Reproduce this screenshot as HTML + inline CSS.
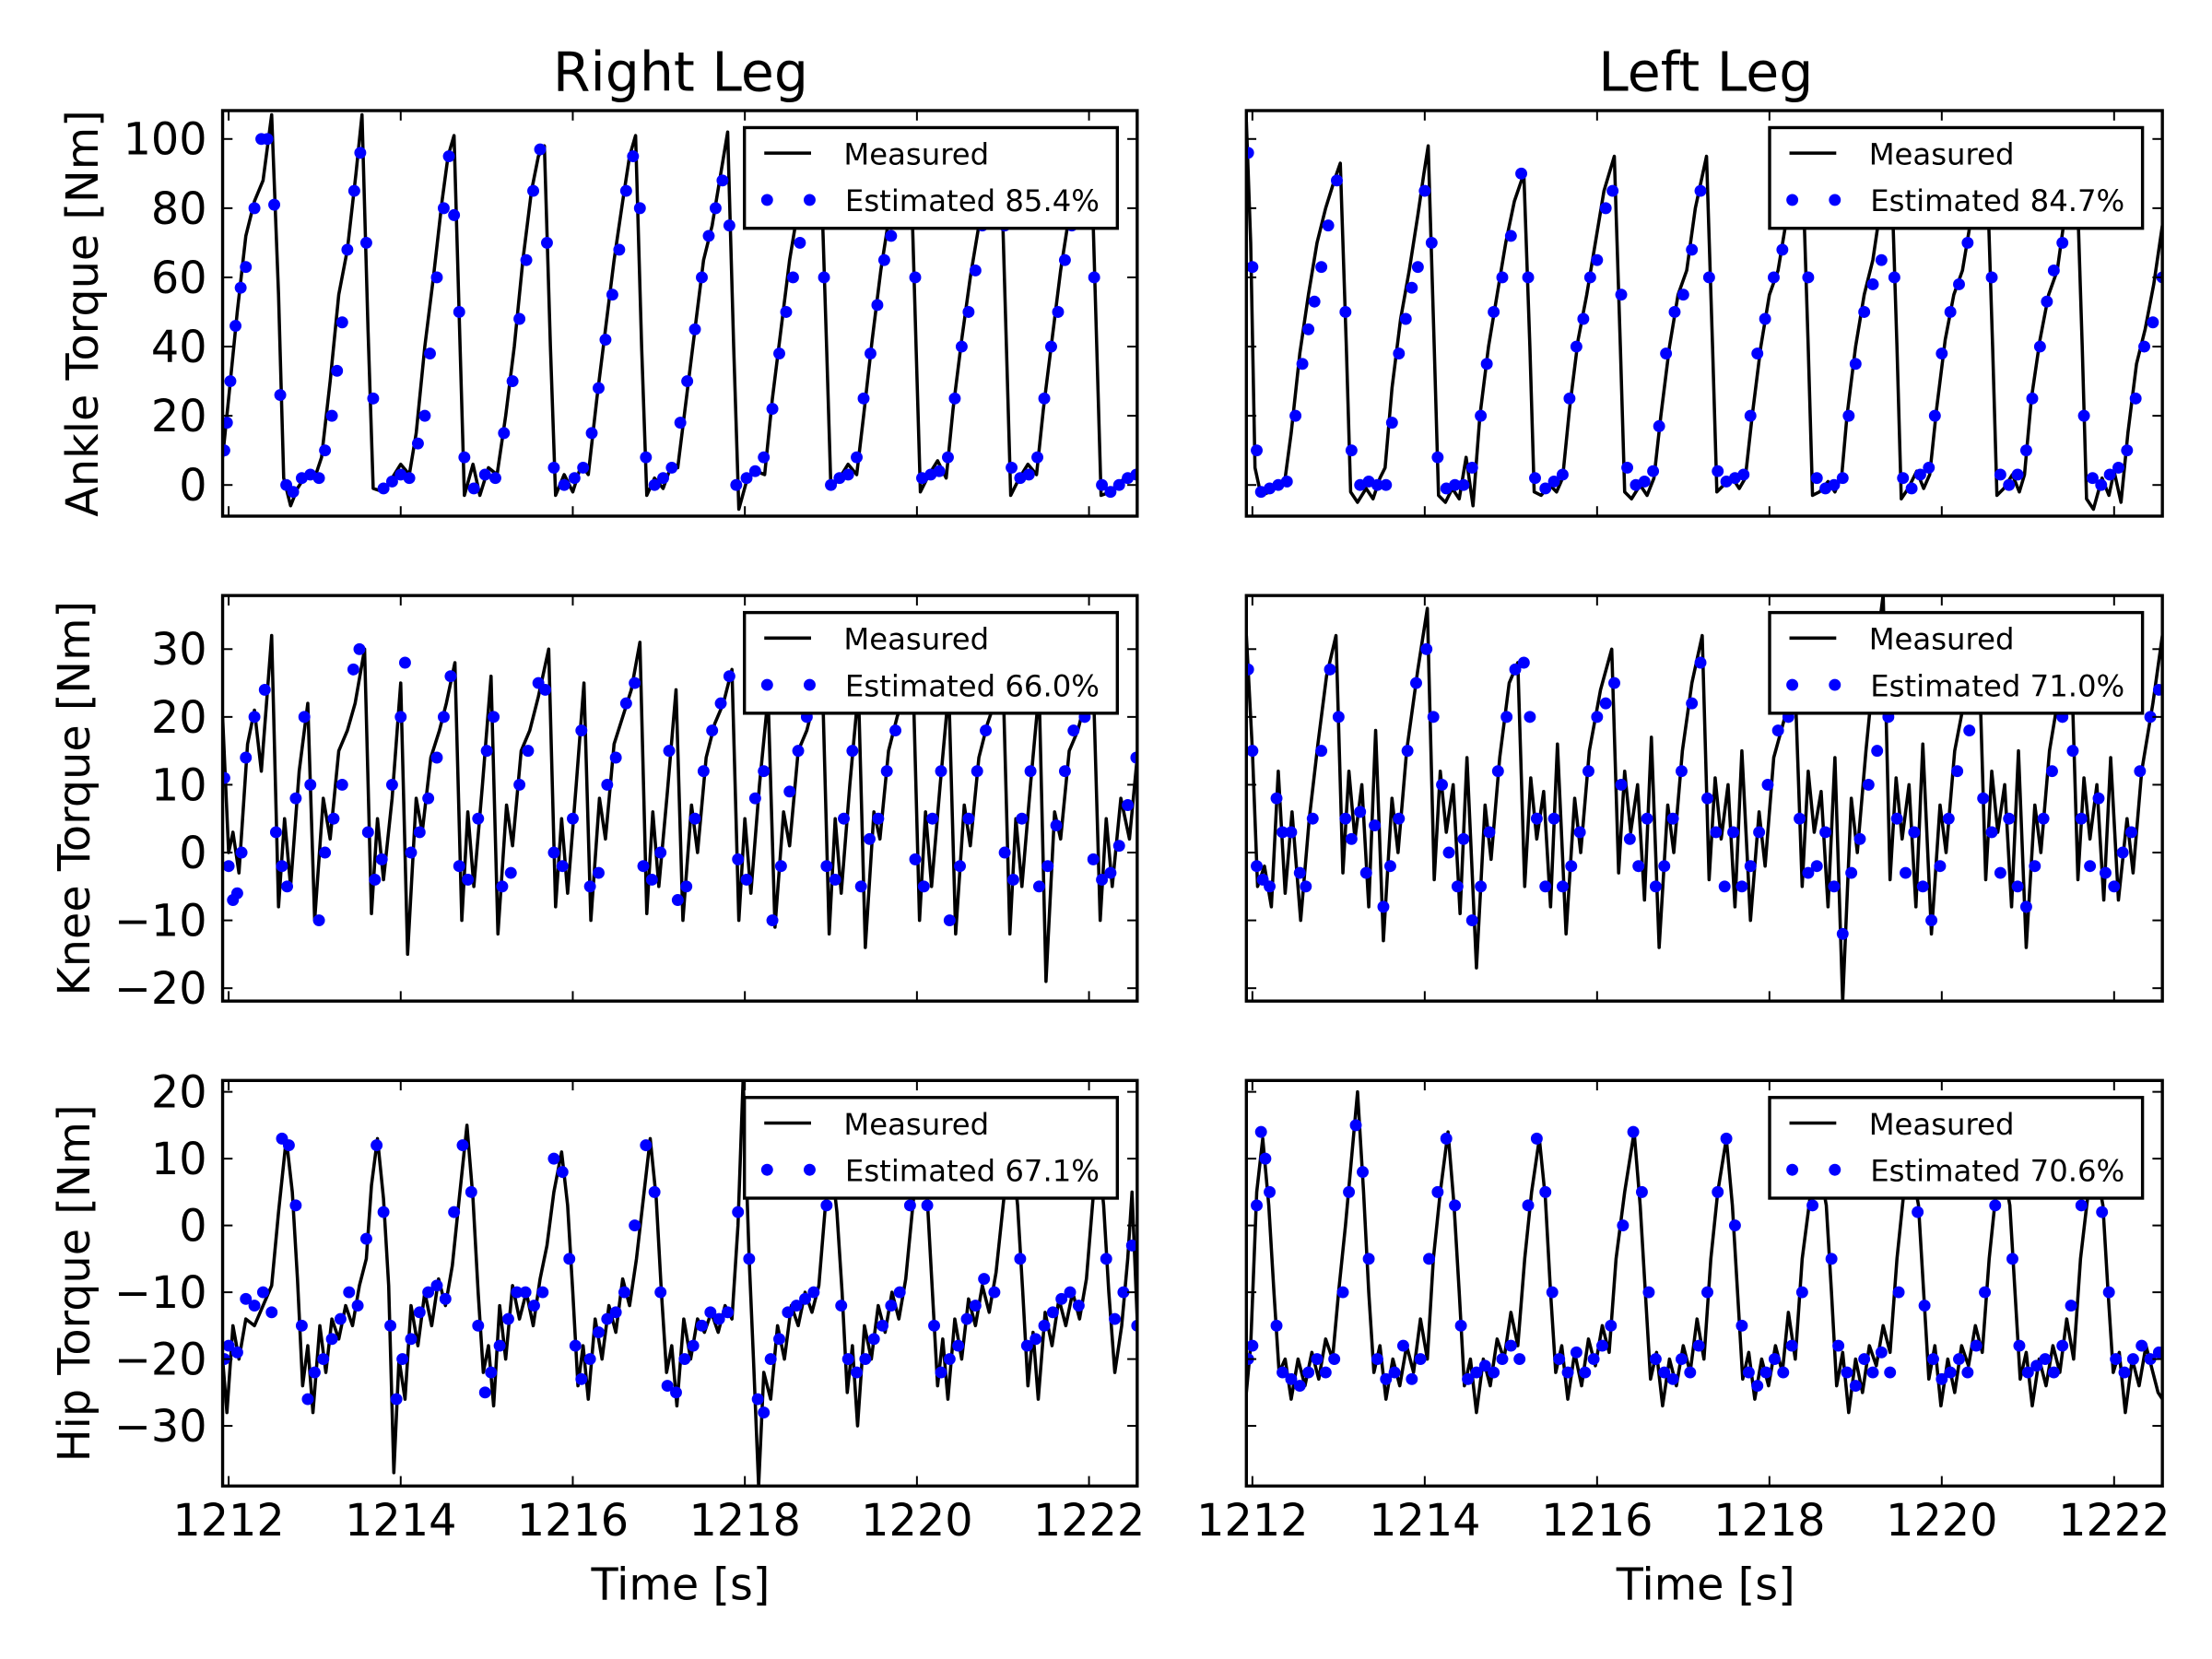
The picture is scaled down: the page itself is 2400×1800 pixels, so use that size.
<!DOCTYPE html>
<html><head><meta charset="utf-8"><title>Leg Torques</title>
<style>
html,body{margin:0;padding:0;background:#fff;}
svg{display:block;font-family:"DejaVu Sans","Liberation Sans",sans-serif;}
</style></head>
<body>
<svg id="fig" width="2400" height="1800" viewBox="0 0 1560 1170" xmlns="http://www.w3.org/2000/svg">
<rect x="0" y="0" width="1560" height="1170" fill="#fff"/>
<text x="480" y="64" font-size="38" text-anchor="middle">Right Leg</text>
<text x="1203" y="64" font-size="38" text-anchor="middle">Left Leg</text>
<text transform="translate(69,221) rotate(-90)" font-size="31" text-anchor="middle">Ankle Torque [Nm]</text>
<text transform="translate(63,563) rotate(-90)" font-size="31" text-anchor="middle">Knee Torque [Nm]</text>
<text transform="translate(63,905) rotate(-90)" font-size="31" text-anchor="middle">Hip Torque [Nm]</text>
<text x="480" y="1128" font-size="31" text-anchor="middle">Time [s]</text>
<text x="1203" y="1128" font-size="31" text-anchor="middle">Time [s]</text>
</svg>
<script>
// ---- data ----
const xTicks = [1212,1214,1216,1218,1220,1222];
const ankleTicks = [0,20,40,60,80,100];
const kneeTicks = [-20,-10,0,10,20,30];
const hipTicks = [-30,-20,-10,0,10,20];
const legendLabels = ["Estimated 85.4%","Estimated 84.7%","Estimated 66.0%","Estimated 71.0%","Estimated 67.1%","Estimated 70.6%"];

const raLine = [1211.93,8,1212.0,25,1212.1,50,1212.2,72,1212.3,82,1212.4,88,1212.5,107,1212.58,55,1212.64,2,1212.72,-6,1212.8,-1,1212.9,3,1213.0,2,1213.08,8,1213.18,30,1213.28,55,1213.38,68,1213.48,90,1213.55,107,1213.62,45,1213.68,-1,1213.8,-2,1213.9,2,1214.0,6,1214.1,3,1214.18,15,1214.28,40,1214.38,60,1214.48,82,1214.55,95,1214.62,101,1214.69,40,1214.74,-3,1214.84,6,1214.92,-3,1215.02,5,1215.12,3,1215.22,20,1215.32,40,1215.42,65,1215.52,85,1215.6,95,1215.67,98,1215.74,40,1215.8,-3,1215.9,3,1216.0,-2,1216.1,6,1216.18,3,1216.28,25,1216.38,45,1216.48,65,1216.58,82,1216.66,95,1216.73,101,1216.8,40,1216.86,-3,1216.95,2,1217.05,-1,1217.15,6,1217.22,5,1217.32,25,1217.42,45,1217.52,65,1217.62,75,1217.72,90,1217.8,102,1217.87,40,1217.93,-7,1218.03,2,1218.13,4,1218.23,3,1218.32,25,1218.42,45,1218.52,65,1218.62,80,1218.75,92,1218.88,95,1218.95,40,1219.0,-1,1219.1,2,1219.2,6,1219.3,3,1219.38,20,1219.48,42,1219.58,62,1219.68,78,1219.8,90,1219.92,100,1219.99,40,1220.04,-2,1220.14,3,1220.24,7,1220.34,2,1220.42,22,1220.52,42,1220.62,60,1220.72,75,1220.85,90,1220.97,100,1221.04,40,1221.09,-3,1221.19,2,1221.29,6,1221.39,3,1221.47,22,1221.57,42,1221.67,62,1221.77,78,1221.9,92,1222.02,100,1222.09,40,1222.14,-3,1222.25,-2,1222.35,1,1222.45,2,1222.56,4];
const raDots = [1211.95,10,1211.98,18,1212.02,30,1212.08,46,1212.14,57,1212.2,63,1212.3,80,1212.38,100,1212.45,100,1212.53,81,1212.6,26,1212.67,0,1212.75,-2,1212.85,2,1212.95,3,1213.05,2,1213.12,10,1213.2,20,1213.26,33,1213.32,47,1213.38,68,1213.46,85,1213.53,96,1213.6,70,1213.68,25,1213.8,-1,1213.9,1,1214.0,3,1214.1,2,1214.2,12,1214.28,20,1214.34,38,1214.42,60,1214.5,80,1214.56,95,1214.62,78,1214.68,50,1214.74,8,1214.85,-1,1214.98,3,1215.1,2,1215.2,15,1215.3,30,1215.38,48,1215.46,65,1215.54,85,1215.62,97,1215.7,70,1215.78,5,1215.9,0,1216.02,2,1216.12,5,1216.22,15,1216.3,28,1216.38,42,1216.46,55,1216.54,68,1216.62,85,1216.7,95,1216.78,80,1216.85,8,1216.95,0,1217.05,2,1217.15,5,1217.25,18,1217.33,30,1217.42,45,1217.5,60,1217.58,72,1217.66,80,1217.74,88,1217.82,75,1217.9,0,1218.02,2,1218.12,4,1218.22,8,1218.32,22,1218.4,38,1218.48,50,1218.56,60,1218.64,70,1218.72,80,1218.92,60,1219.0,0,1219.1,2,1219.2,3,1219.3,8,1219.38,25,1219.46,38,1219.54,52,1219.62,65,1219.7,72,1219.78,82,1219.98,60,1220.06,2,1220.16,3,1220.26,4,1220.36,8,1220.44,25,1220.52,40,1220.6,50,1220.68,62,1220.76,75,1220.86,88,1221.02,75,1221.1,5,1221.2,2,1221.3,3,1221.4,8,1221.48,25,1221.56,40,1221.64,50,1221.72,65,1221.8,75,1221.9,85,1222.06,60,1222.15,0,1222.25,-2,1222.35,0,1222.45,2,1222.55,3];

const laLine = [1211.93,105,1211.98,70,1212.03,5,1212.1,-3,1212.2,-2,1212.3,0,1212.38,2,1212.45,15,1212.55,38,1212.65,55,1212.75,70,1212.85,80,1212.95,88,1213.02,93,1213.09,40,1213.14,-2,1213.22,-5,1213.32,-1,1213.4,-4,1213.48,2,1213.54,5,1213.62,28,1213.72,48,1213.82,62,1213.92,78,1213.99,90,1214.04,98,1214.11,40,1214.16,-3,1214.24,-5,1214.32,-1,1214.4,-4,1214.48,8,1214.56,-6,1214.64,20,1214.74,40,1214.84,55,1214.94,70,1215.04,82,1215.15,90,1215.22,40,1215.27,-2,1215.35,-3,1215.45,0,1215.53,-2,1215.6,2,1215.68,22,1215.78,42,1215.88,55,1215.98,70,1216.08,85,1216.2,95,1216.27,40,1216.32,-2,1216.4,-4,1216.5,0,1216.58,-3,1216.66,2,1216.74,20,1216.84,40,1216.94,55,1217.04,62,1217.14,80,1217.27,95,1217.34,40,1217.39,-2,1217.47,0,1217.57,2,1217.65,-1,1217.72,2,1217.8,20,1217.9,40,1218.0,55,1218.1,62,1218.22,80,1218.38,95,1218.45,40,1218.5,-3,1218.58,-2,1218.68,1,1218.76,-2,1218.84,3,1218.9,20,1219.0,40,1219.1,55,1219.2,65,1219.3,82,1219.41,95,1219.48,40,1219.53,-4,1219.61,-1,1219.71,4,1219.79,-1,1219.86,3,1219.94,22,1220.04,42,1220.14,55,1220.24,62,1220.36,80,1220.52,95,1220.59,40,1220.64,-3,1220.72,-1,1220.82,3,1220.9,-2,1220.96,3,1221.04,25,1221.14,42,1221.24,55,1221.34,62,1221.44,80,1221.56,95,1221.63,40,1221.68,-4,1221.76,-7,1221.86,2,1221.94,-3,1222.0,4,1222.08,-5,1222.16,15,1222.26,35,1222.36,45,1222.46,58,1222.56,75];
const laDots = [1211.95,96,1212.0,63,1212.05,10,1212.1,-2,1212.2,-1,1212.3,0,1212.4,1,1212.5,20,1212.58,35,1212.65,45,1212.72,53,1212.8,63,1212.88,75,1212.98,88,1213.08,50,1213.15,10,1213.25,0,1213.35,1,1213.45,0,1213.55,0,1213.62,18,1213.7,38,1213.78,48,1213.85,57,1213.92,63,1214.0,85,1214.08,70,1214.15,8,1214.25,-1,1214.35,0,1214.45,0,1214.55,5,1214.65,20,1214.72,35,1214.8,50,1214.9,60,1215.0,72,1215.12,90,1215.2,60,1215.28,2,1215.4,-1,1215.5,1,1215.6,3,1215.68,25,1215.76,40,1215.84,48,1215.92,60,1216.0,65,1216.1,80,1216.18,85,1216.28,55,1216.35,5,1216.45,0,1216.55,1,1216.65,4,1216.72,17,1216.8,38,1216.9,50,1217.0,55,1217.1,68,1217.2,85,1217.3,60,1217.4,4,1217.5,1,1217.6,2,1217.7,3,1217.78,20,1217.86,38,1217.95,48,1218.05,60,1218.15,68,1218.25,80,1218.45,60,1218.55,2,1218.65,-1,1218.75,0,1218.85,2,1218.92,20,1219.0,35,1219.1,50,1219.2,58,1219.3,65,1219.45,60,1219.55,2,1219.65,-1,1219.75,3,1219.85,5,1219.92,20,1220.0,38,1220.1,50,1220.2,58,1220.3,70,1220.45,85,1220.58,60,1220.68,3,1220.78,0,1220.88,3,1220.98,10,1221.05,25,1221.14,40,1221.22,53,1221.3,62,1221.4,70,1221.55,85,1221.65,20,1221.75,2,1221.85,0,1221.95,3,1222.05,5,1222.15,10,1222.25,25,1222.35,40,1222.45,47,1222.56,60];

const rkLine = [1211.93,20,1212.0,0,1212.05,3,1212.12,-3,1212.22,16,1212.3,21,1212.38,12,1212.5,32,1212.58,-8,1212.65,5,1212.72,-5,1212.82,12,1212.92,22,1213.0,-10,1213.1,8,1213.18,2,1213.28,15,1213.38,18,1213.47,22,1213.58,30,1213.66,-9,1213.73,5,1213.8,-4,1213.9,8,1214.0,25,1214.08,-15,1214.18,8,1214.25,3,1214.35,14,1214.45,18,1214.53,22,1214.63,28,1214.71,-10,1214.78,6,1214.85,-5,1214.95,10,1215.05,26,1215.13,-12,1215.23,7,1215.3,1,1215.4,15,1215.5,18,1215.6,23,1215.72,30,1215.8,-8,1215.87,5,1215.94,-6,1216.04,10,1216.13,25,1216.21,-10,1216.31,8,1216.38,2,1216.48,16,1216.58,20,1216.68,24,1216.78,31,1216.86,-9,1216.93,6,1217.0,-5,1217.1,9,1217.2,24,1217.28,-10,1217.38,7,1217.45,0,1217.55,14,1217.65,19,1217.75,22,1217.85,27,1217.93,-10,1218.0,5,1218.07,-6,1218.17,10,1218.27,23,1218.35,-11,1218.45,6,1218.52,1,1218.62,15,1218.72,18,1218.8,22,1218.9,26,1218.98,-12,1219.05,5,1219.12,-6,1219.22,10,1219.32,24,1219.4,-14,1219.5,6,1219.57,2,1219.67,15,1219.77,20,1219.85,23,1219.95,28,1220.03,-10,1220.1,6,1220.17,-5,1220.27,10,1220.37,24,1220.45,-12,1220.55,7,1220.62,1,1220.72,14,1220.82,19,1220.9,22,1221.0,26,1221.08,-12,1221.15,5,1221.22,-5,1221.32,10,1221.42,24,1221.5,-19,1221.6,6,1221.67,2,1221.77,15,1221.87,18,1221.95,22,1222.05,25,1222.13,-10,1222.2,5,1222.27,-5,1222.37,8,1222.47,2,1222.56,14];
const rkDots = [1211.95,11,1212.0,-2,1212.05,-7,1212.1,-6,1212.15,0,1212.2,14,1212.3,20,1212.42,24,1212.55,3,1212.62,-2,1212.68,-5,1212.78,8,1212.88,20,1212.95,10,1213.05,-10,1213.12,0,1213.22,5,1213.32,10,1213.45,27,1213.52,30,1213.62,3,1213.7,-4,1213.78,-1,1213.9,10,1214.0,20,1214.05,28,1214.12,0,1214.22,3,1214.32,8,1214.42,14,1214.5,20,1214.58,26,1214.68,-2,1214.78,-4,1214.9,5,1215.0,15,1215.08,20,1215.18,-5,1215.28,-3,1215.38,10,1215.48,15,1215.6,25,1215.68,24,1215.78,0,1215.88,-2,1216.0,5,1216.1,18,1216.2,-5,1216.3,-3,1216.4,10,1216.5,14,1216.62,22,1216.72,25,1216.82,-2,1216.92,-4,1217.02,0,1217.12,15,1217.22,-7,1217.32,-5,1217.42,5,1217.52,12,1217.62,18,1217.72,22,1217.82,26,1217.92,-1,1218.02,-4,1218.12,8,1218.22,12,1218.32,-10,1218.42,-2,1218.52,9,1218.62,15,1218.72,20,1218.82,25,1218.95,-2,1219.05,-4,1219.15,5,1219.25,15,1219.35,-5,1219.45,2,1219.55,5,1219.65,12,1219.75,18,1219.88,24,1219.98,-1,1220.08,-5,1220.18,5,1220.28,12,1220.38,-10,1220.5,-2,1220.6,5,1220.7,12,1220.8,18,1220.92,22,1221.02,0,1221.12,-4,1221.22,5,1221.32,12,1221.42,-5,1221.52,-2,1221.62,4,1221.72,12,1221.82,18,1221.95,20,1222.05,-1,1222.15,-4,1222.25,-3,1222.35,1,1222.45,7,1222.55,14];

const lkLine = [1211.93,32,1212.0,15,1212.06,-5,1212.14,-2,1212.22,-8,1212.3,12,1212.38,-6,1212.46,6,1212.56,-10,1212.66,5,1212.76,16,1212.86,26,1212.97,32,1213.05,-3,1213.12,12,1213.19,2,1213.27,10,1213.35,-8,1213.43,18,1213.52,-13,1213.62,8,1213.69,0,1213.79,15,1213.92,27,1214.03,36,1214.11,-4,1214.18,12,1214.25,3,1214.33,10,1214.41,-9,1214.49,14,1214.6,-17,1214.7,7,1214.77,-1,1214.87,14,1214.98,25,1215.08,28,1215.16,-5,1215.23,11,1215.3,2,1215.38,9,1215.46,-8,1215.54,16,1215.64,-12,1215.74,8,1215.81,0,1215.91,15,1216.04,24,1216.17,30,1216.25,-3,1216.32,12,1216.39,3,1216.47,10,1216.55,-7,1216.63,17,1216.72,-14,1216.82,7,1216.89,0,1216.99,15,1217.1,25,1217.22,32,1217.3,-4,1217.37,11,1217.44,2,1217.52,10,1217.6,-8,1217.68,15,1217.78,-10,1217.88,6,1217.95,-2,1218.05,14,1218.18,20,1218.3,24,1218.38,-5,1218.45,12,1218.52,3,1218.6,9,1218.68,-8,1218.76,14,1218.85,-22,1218.95,8,1219.02,0,1219.12,15,1219.22,28,1219.32,38,1219.4,-4,1219.47,11,1219.54,2,1219.62,10,1219.7,-8,1219.78,16,1219.88,-12,1219.98,7,1220.05,0,1220.15,15,1220.3,25,1220.43,30,1220.51,-4,1220.58,12,1220.65,3,1220.73,10,1220.81,-8,1220.89,15,1220.98,-14,1221.08,7,1221.15,0,1221.25,15,1221.38,25,1221.5,30,1221.58,-4,1221.65,11,1221.72,2,1221.8,10,1221.88,-7,1221.96,14,1222.05,-7,1222.15,5,1222.22,-3,1222.32,12,1222.45,22,1222.56,32];
const lkDots = [1211.95,27,1212.0,15,1212.05,-2,1212.12,-4,1212.2,-5,1212.28,8,1212.35,3,1212.45,3,1212.55,-3,1212.62,-5,1212.7,5,1212.8,15,1212.9,27,1213.0,20,1213.08,5,1213.15,2,1213.25,6,1213.32,-3,1213.42,4,1213.52,-8,1213.6,-2,1213.7,5,1213.8,15,1213.9,25,1214.02,30,1214.1,20,1214.2,10,1214.28,0,1214.38,-5,1214.45,2,1214.55,-10,1214.65,-5,1214.75,3,1214.85,12,1214.95,20,1215.05,27,1215.15,28,1215.22,20,1215.3,5,1215.4,-5,1215.5,5,1215.6,-5,1215.7,-2,1215.8,3,1215.9,12,1216.0,20,1216.1,22,1216.2,25,1216.28,10,1216.38,2,1216.48,-2,1216.58,5,1216.68,-5,1216.78,-2,1216.88,5,1216.98,12,1217.1,22,1217.2,28,1217.28,8,1217.38,3,1217.48,-5,1217.58,3,1217.68,-5,1217.78,-2,1217.88,3,1217.98,10,1218.1,18,1218.22,20,1218.35,5,1218.45,-3,1218.55,-2,1218.65,3,1218.75,-5,1218.85,-12,1218.95,-3,1219.05,2,1219.15,10,1219.25,15,1219.38,20,1219.48,5,1219.58,-3,1219.68,3,1219.78,-5,1219.88,-10,1219.98,-2,1220.08,5,1220.18,12,1220.32,18,1220.48,8,1220.58,3,1220.68,-3,1220.78,5,1220.88,-5,1220.98,-8,1221.08,-2,1221.18,5,1221.28,12,1221.4,20,1221.52,15,1221.62,5,1221.72,-2,1221.82,8,1221.9,-3,1222.0,-5,1222.1,0,1222.2,3,1222.3,12,1222.42,20,1222.52,24];

const rhLine = [1211.93,-20,1211.98,-28,1212.05,-15,1212.12,-20,1212.2,-14,1212.3,-15,1212.4,-12,1212.5,-9,1212.58,2,1212.67,13,1212.74,5,1212.8,-8,1212.86,-24,1212.92,-18,1212.98,-28,1213.06,-15,1213.13,-22,1213.2,-14,1213.28,-17,1213.36,-12,1213.44,-15,1213.52,-9,1213.6,-5,1213.66,6,1213.73,13,1213.8,4,1213.86,-9,1213.92,-37,1213.98,-20,1214.05,-26,1214.12,-12,1214.2,-18,1214.28,-10,1214.36,-15,1214.44,-8,1214.52,-12,1214.6,-6,1214.68,4,1214.77,15,1214.84,4,1214.9,-10,1214.96,-22,1215.02,-18,1215.08,-27,1215.15,-12,1215.22,-20,1215.3,-9,1215.38,-14,1215.46,-10,1215.54,-15,1215.62,-8,1215.7,-3,1215.78,5,1215.87,11,1215.94,3,1216.0,-10,1216.06,-24,1216.12,-18,1216.18,-26,1216.26,-14,1216.34,-20,1216.42,-12,1216.5,-16,1216.58,-8,1216.66,-12,1216.74,-5,1216.82,4,1216.9,13,1216.97,4,1217.03,-10,1217.09,-22,1217.15,-18,1217.21,-27,1217.29,-14,1217.37,-20,1217.45,-14,1217.53,-16,1217.61,-13,1217.69,-16,1217.77,-12,1217.85,-14,1217.92,0,1217.98,22,1218.05,-5,1218.1,-20,1218.16,-39,1218.22,-22,1218.3,-26,1218.38,-15,1218.46,-20,1218.54,-12,1218.62,-15,1218.7,-10,1218.78,-13,1218.86,-9,1218.93,2,1219.0,10,1219.07,2,1219.13,-10,1219.19,-25,1219.25,-18,1219.31,-30,1219.39,-15,1219.47,-20,1219.55,-12,1219.63,-16,1219.71,-10,1219.79,-14,1219.87,-8,1219.96,4,1220.05,15,1220.12,4,1220.18,-10,1220.24,-24,1220.3,-17,1220.36,-26,1220.44,-14,1220.52,-20,1220.6,-11,1220.68,-15,1220.76,-9,1220.84,-13,1220.92,-7,1221.01,4,1221.1,12,1221.17,3,1221.23,-10,1221.29,-24,1221.35,-16,1221.41,-26,1221.49,-13,1221.57,-18,1221.65,-11,1221.73,-15,1221.81,-10,1221.89,-14,1221.97,-8,1222.04,3,1222.1,12,1222.17,3,1222.23,-10,1222.3,-22,1222.38,-15,1222.45,-5,1222.5,5,1222.56,-14];
const rhDots = [1211.95,-20,1212.0,-18,1212.1,-19,1212.2,-11,1212.3,-12,1212.4,-10,1212.5,-13,1212.62,13,1212.7,12,1212.78,3,1212.85,-15,1212.92,-26,1213.0,-22,1213.1,-20,1213.2,-17,1213.3,-14,1213.4,-10,1213.5,-12,1213.6,-2,1213.72,12,1213.8,2,1213.88,-15,1213.95,-26,1214.02,-20,1214.12,-17,1214.22,-13,1214.32,-10,1214.42,-9,1214.52,-11,1214.62,2,1214.72,12,1214.82,5,1214.9,-15,1214.98,-25,1215.05,-22,1215.15,-18,1215.25,-14,1215.35,-10,1215.45,-10,1215.55,-12,1215.65,-10,1215.78,10,1215.88,8,1215.96,-5,1216.03,-18,1216.1,-23,1216.2,-20,1216.3,-16,1216.4,-14,1216.5,-13,1216.6,-10,1216.72,0,1216.85,12,1216.95,5,1217.02,-10,1217.1,-24,1217.2,-25,1217.3,-20,1217.4,-18,1217.5,-15,1217.6,-13,1217.7,-14,1217.8,-13,1217.92,2,1218.05,-5,1218.15,-26,1218.22,-28,1218.3,-20,1218.4,-17,1218.5,-13,1218.6,-12,1218.7,-11,1218.8,-10,1218.95,3,1219.05,5,1219.12,-12,1219.2,-20,1219.3,-22,1219.4,-20,1219.5,-17,1219.6,-15,1219.7,-12,1219.8,-10,1219.92,3,1220.05,12,1220.12,3,1220.2,-15,1220.28,-22,1220.38,-20,1220.48,-18,1220.58,-14,1220.68,-12,1220.78,-8,1220.9,-10,1221.02,5,1221.12,10,1221.2,-5,1221.28,-18,1221.38,-17,1221.48,-15,1221.58,-13,1221.68,-11,1221.78,-10,1221.88,-12,1222.0,5,1222.1,10,1222.2,-5,1222.3,-14,1222.4,-10,1222.5,-3,1222.56,-15];

const lhLine = [1211.93,-25,1211.98,-18,1212.05,5,1212.12,13,1212.19,3,1212.25,-10,1212.31,-22,1212.38,-20,1212.45,-26,1212.53,-20,1212.61,-24,1212.69,-19,1212.77,-23,1212.85,-17,1212.93,-20,1213.0,-10,1213.08,0,1213.15,10,1213.22,20,1213.29,5,1213.35,-10,1213.41,-22,1213.48,-18,1213.55,-26,1213.63,-20,1213.71,-24,1213.79,-18,1213.87,-22,1213.95,-14,1214.03,-20,1214.1,-5,1214.18,5,1214.27,14,1214.34,3,1214.4,-10,1214.46,-24,1214.53,-20,1214.6,-28,1214.68,-20,1214.76,-24,1214.84,-17,1214.92,-20,1215.0,-13,1215.08,-18,1215.16,-5,1215.24,5,1215.33,13,1215.4,4,1215.46,-10,1215.52,-22,1215.59,-18,1215.66,-26,1215.74,-19,1215.82,-24,1215.9,-17,1215.98,-21,1216.06,-15,1216.14,-19,1216.22,-5,1216.32,5,1216.43,14,1216.5,3,1216.56,-10,1216.62,-23,1216.69,-19,1216.76,-27,1216.84,-20,1216.92,-24,1217.0,-18,1217.08,-22,1217.16,-14,1217.24,-20,1217.32,-5,1217.4,5,1217.5,13,1217.57,3,1217.63,-10,1217.69,-23,1217.76,-19,1217.83,-26,1217.91,-20,1217.99,-24,1218.07,-18,1218.15,-22,1218.22,-13,1218.3,-20,1218.38,-5,1218.48,5,1218.59,8,1218.66,3,1218.72,-10,1218.78,-24,1218.85,-19,1218.92,-28,1219.0,-20,1219.08,-25,1219.16,-18,1219.24,-21,1219.32,-15,1219.4,-19,1219.48,-5,1219.56,5,1219.66,8,1219.73,3,1219.79,-10,1219.85,-23,1219.92,-18,1219.99,-27,1220.07,-20,1220.15,-25,1220.23,-18,1220.31,-21,1220.39,-15,1220.47,-19,1220.55,-5,1220.63,5,1220.72,8,1220.79,3,1220.85,-10,1220.91,-23,1220.98,-19,1221.05,-27,1221.13,-20,1221.21,-24,1221.29,-18,1221.37,-22,1221.45,-14,1221.53,-20,1221.61,-5,1221.7,5,1221.8,8,1221.87,3,1221.93,-10,1221.99,-22,1222.06,-19,1222.13,-28,1222.21,-20,1222.29,-24,1222.37,-18,1222.45,-22,1222.51,-25,1222.56,-26];
const lhDots = [1211.95,-20,1212.0,-18,1212.05,3,1212.1,14,1212.15,10,1212.2,5,1212.28,-15,1212.35,-22,1212.45,-23,1212.55,-24,1212.65,-22,1212.75,-20,1212.85,-22,1212.95,-20,1213.05,-10,1213.12,5,1213.2,15,1213.28,8,1213.35,-5,1213.45,-20,1213.55,-23,1213.65,-22,1213.75,-18,1213.85,-23,1213.95,-20,1214.05,-5,1214.15,5,1214.25,13,1214.35,3,1214.42,-15,1214.5,-23,1214.6,-22,1214.7,-21,1214.8,-22,1214.9,-20,1215.0,-18,1215.1,-20,1215.2,3,1215.3,13,1215.4,5,1215.48,-10,1215.56,-20,1215.66,-22,1215.76,-19,1215.86,-22,1215.96,-20,1216.06,-18,1216.16,-15,1216.3,0,1216.42,14,1216.52,5,1216.6,-10,1216.68,-20,1216.78,-22,1216.88,-23,1216.98,-20,1217.08,-22,1217.18,-18,1217.28,-10,1217.4,5,1217.5,13,1217.6,0,1217.68,-15,1217.76,-22,1217.86,-24,1217.96,-22,1218.06,-20,1218.16,-22,1218.26,-18,1218.38,-10,1218.5,3,1218.62,5,1218.72,-5,1218.8,-18,1218.9,-22,1219.0,-24,1219.1,-20,1219.2,-22,1219.3,-19,1219.4,-22,1219.5,-10,1219.62,5,1219.72,2,1219.8,-12,1219.9,-20,1220.0,-23,1220.1,-22,1220.2,-20,1220.3,-22,1220.4,-18,1220.5,-10,1220.62,3,1220.72,5,1220.82,-5,1220.9,-18,1221.0,-22,1221.1,-21,1221.2,-20,1221.3,-22,1221.4,-18,1221.5,-12,1221.62,3,1221.76,5,1221.86,2,1221.94,-10,1222.02,-20,1222.12,-22,1222.22,-20,1222.32,-18,1222.42,-20,1222.52,-19];

// ---- layout ----
const NS = "http://www.w3.org/2000/svg";
const svg = document.getElementById('fig');
const X_MIN = 1211.93, X_MAX = 1222.56;
const cols = [{x0:157, x1:802, side:'right'},{x0:879, x1:1525, side:'left'}];
const rows = [
  {y0:78, y1:364, vmin:-9, vmax:108.2, ticks:ankleTicks, name:'ankle'},
  {y0:420, y1:706, vmin:-21.9, vmax:37.9, ticks:kneeTicks, name:'knee'},
  {y0:762, y1:1048, vmin:-39, vmax:21.7, ticks:hipTicks, name:'hip'}
];
const series = [[raLine,raDots,laLine,laDots],[rkLine,rkDots,lkLine,lkDots],[rhLine,rhDots,lhLine,lhDots]];

function mk(tag, attrs, parent){
  const e = document.createElementNS(NS, tag);
  for (const k in attrs) e.setAttribute(k, attrs[k]);
  (parent||svg).appendChild(e);
  return e;
}
function fmt(v){ return v < 0 ? '\u2212' + Math.abs(v) : String(v); }

rows.forEach((r, ri) => {
  cols.forEach((c, ci) => {
    const xs = t => c.x0 + (t - X_MIN) / (X_MAX - X_MIN) * (c.x1 - c.x0);
    const ys = v => r.y1 - (v - r.vmin) / (r.vmax - r.vmin) * (r.y1 - r.y0);
    const g = mk('g', {});
    
    
    const cid = 'clip' + ri + ci;
    const cp = mk('clipPath', {id: cid}, g);
    mk('rect', {x:c.x0, y:r.y0, width:c.x1-c.x0, height:r.y1-r.y0}, cp);
    const line = series[ri][ci*2], dots = series[ri][ci*2+1];
    let d = '';
    for (let i = 0; i < line.length; i += 2) d += (i ? 'L' : 'M') + xs(line[i]).toFixed(2) + ' ' + ys(line[i+1]).toFixed(2);
    const p = mk('path', {d:d, fill:'none', stroke:'#000', 'stroke-width':2.3, 'stroke-linejoin':'round', 'clip-path':'url(#'+cid+')'}, g);
    
    
    const dg = mk('g', {'clip-path':'url(#'+cid+')', fill:'#0000ff'}, g);
    
    
    for (let i = 0; i < dots.length; i += 2) {
      const ci2 = mk('circle', {cx:xs(dots[i]).toFixed(2), cy:ys(dots[i+1]).toFixed(2), r:4.2}, dg);
      
      
    }
    xTicks.forEach(t => {
      const x = xs(t);
      mk('line', {x1:x, x2:x, y1:r.y1, y2:r.y1-7, stroke:'#000', 'stroke-width':1.3}, g);
      mk('line', {x1:x, x2:x, y1:r.y0, y2:r.y0+7, stroke:'#000', 'stroke-width':1.3}, g);
      if (ri === 2) {
        const tl = mk('text', {x:x, y:1083, 'font-size':31, 'text-anchor':'middle'}, g);
        tl.textContent = t;
        
        
      }
    });
    r.ticks.forEach(v => {
      const y = ys(v);
      mk('line', {x1:c.x0, x2:c.x0+7, y1:y, y2:y, stroke:'#000', 'stroke-width':1.3}, g);
      mk('line', {x1:c.x1, x2:c.x1-7, y1:y, y2:y, stroke:'#000', 'stroke-width':1.3}, g);
      if (ci === 0) {
        const tl = mk('text', {x:146, y:y+11, 'font-size':31, 'text-anchor':'end'}, g);
        tl.textContent = fmt(v);
        
        
      }
    });
    const fr = mk('rect', {x:c.x0, y:r.y0, width:c.x1-c.x0, height:r.y1-r.y0, fill:'none', stroke:'#000', 'stroke-width':2.2}, g);
    
    
    // legend
    const lx = c.x1 - 277, ly = r.y0 + 12;
    const lg = mk('g', {}, g);
    
    
    mk('rect', {x:lx, y:ly, width:263, height:71, fill:'#fff', stroke:'#000', 'stroke-width':2.2}, lg);
    mk('line', {x1:lx+14, x2:lx+47, y1:ly+18, y2:ly+18, stroke:'#000', 'stroke-width':2.3}, lg);
    const t1 = mk('text', {x:lx+70, y:ly+26, 'font-size':21}, lg);
    t1.textContent = 'Measured';
    
    
    mk('circle', {cx:lx+16, cy:ly+51, r:4.2, fill:'#0000ff'}, lg);
    mk('circle', {cx:lx+46, cy:ly+51, r:4.2, fill:'#0000ff'}, lg);
    const t2 = mk('text', {x:lx+71, y:ly+59, 'font-size':21}, lg);
    t2.textContent = legendLabels[ri*2+ci];
    
    
  });
});
</script>
</body></html>
